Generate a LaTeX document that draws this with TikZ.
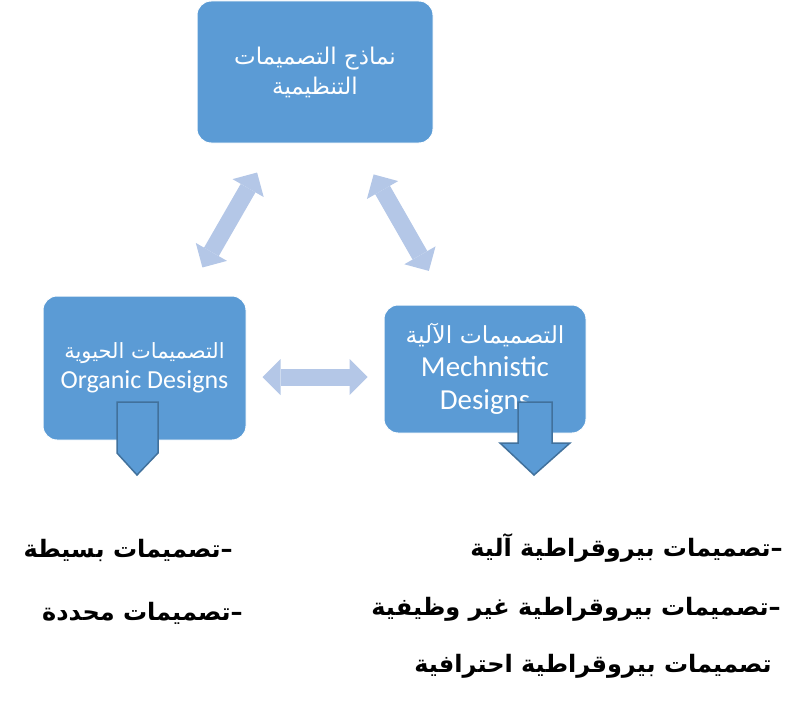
\documentclass[tikz,border=0pt]{standalone}
\usepackage{fontspec}
\setmainfont{Carlito}
\newfontfamily\arabicfont[Script=Arabic]{DejaVu Sans}
\TeXXeTstate=1
\usepackage{xcolor}
\usetikzlibrary{arrows.meta, positioning}

\definecolor{azulcaixa}{HTML}{5B9BD5}
\definecolor{azulborda}{HTML}{41719C}
\definecolor{azulclaro}{HTML}{B4C7E7}

\tikzset{
	caixa/.style={fill=azulcaixa, draw=white, line width=1pt, rounded corners=14pt,
		text=white, align=center, inner sep=0pt},
	dupla/.style={draw=azulclaro, line width=17pt,
		{Triangle[length=18pt, width=36pt, line width=0pt]}-{Triangle[length=18pt, width=36pt, line width=0pt]}},
	baixo/.style={fill=azulcaixa, draw=azulborda, line width=1.5pt, line join=miter},
	lista/.style={anchor=east, inner sep=0pt, font=\arabicfont\bfseries\fontsize{24}{28}\selectfont}
}

\begin{document}
\begin{tikzpicture}[x=1pt, y=-1pt]
	\useasboundingbox (0,0) rectangle (803,709);

	% caixas
	\node[caixa, minimum width=236pt, minimum height=142pt, font=\fontsize{23}{30}\selectfont] (modelos) at (315,72)
		{\arabicfont\beginR نماذج التصميمات\endR\\
		 \arabicfont\beginR التنظيمية\endR};
	\node[caixa, minimum width=203pt, minimum height=144pt, font=\fontsize{26}{30}\selectfont] (organica) at (144.5,368)
		{\arabicfont\fontsize{21}{30}\selectfont\beginR التصميمات الحيوية\endR\\
		 Organic Designs};
	\node[caixa, minimum width=202pt, minimum height=128pt, font=\fontsize{29}{33}\selectfont] (mecanica) at (485,369)
		{\arabicfont\fontsize{23.5}{33}\selectfont\beginR التصميمات الآلية\endR\\
		 Mechnistic\\ Designs};

	% setas duplas
	\draw[dupla, shorten <=116pt, shorten >=116pt] (organica.center) -- (modelos.center);
	\draw[dupla, shorten <=113pt, shorten >=118pt] (mecanica.center) -- (modelos.center);
	\draw[dupla, shorten <=16pt, shorten >=16pt] ([yshift=-9pt]organica.east) -- ([yshift=-9pt]organica.east -| mecanica.west);

	% setas para baixo
	\draw[baixo] (117,402) -- (158,402) -- (158,453) -- (137,475) -- (117,453) -- cycle;
	\draw[baixo] (518,402) -- (552,402) -- (552,443) -- (570,443) -- (534,475) -- (500,443) -- (518,443) -- cycle;

	% listas
	\node[lista] (mec1) at (783,548) {\beginR –تصميمات بيروقراطية آلية\endR};
	\node[lista] (mec2) at (781,609) {\beginR –تصميمات بيروقراطية غير وظيفية\endR};
	\node[lista] (mec3) at (772,666) {\beginR تصميمات بيروقراطية احترافية\endR};
	\node[lista] (org1) at (233,550) {\beginR –تصميمات بسيطة\endR};
	\node[lista] (org2) at (243,613) {\beginR –تصميمات محددة\endR};
\end{tikzpicture}
\end{document}
